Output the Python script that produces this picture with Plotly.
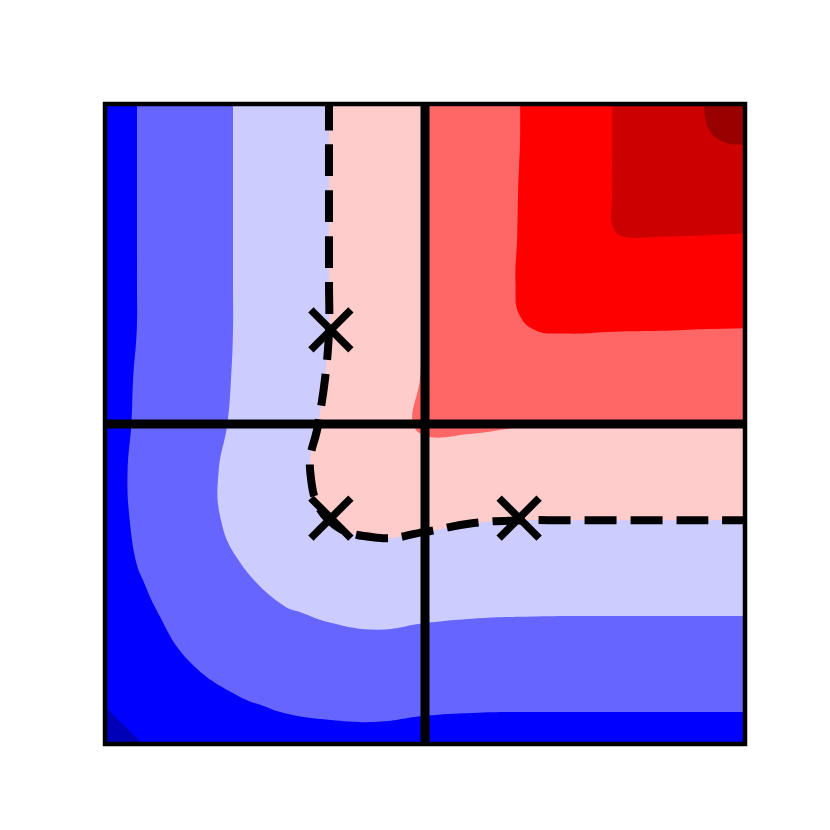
import plotly.graph_objs as go

# grid positions (same for x and y)
grid_x = [-1.75, -1.5, -1.25, -1.0, -0.75, -0.5, -0.25, 0.0,
          0.25, 0.5, 0.75, 1.0, 1.25, 1.5, 1.75]
grid_y = [-1.75, -1.5, -1.25, -1.0, -0.75, -0.5, -0.25, 0.0,
          0.25, 0.5, 0.75, 1.0, 1.25, 1.5, 1.75]

# field values, one row per grid_y (bottom to top)
z_values = [
    [-1.72, -1.54, -1.38, -1.28, -1.21, -1.17, -1.165, -1.20, -1.215, -1.22, -1.22, -1.22, -1.22, -1.22, -1.22],
    [-1.54, -1.35, -1.20, -1.05, -0.965, -0.93, -0.92, -0.95, -0.965, -0.97, -0.97, -0.97, -0.97, -0.97, -0.97],
    [-1.39, -1.18, -0.99, -0.84, -0.75, -0.69, -0.66, -0.70, -0.715, -0.72, -0.73, -0.73, -0.73, -0.73, -0.73],
    [-1.29, -1.07, -0.85, -0.67, -0.53, -0.445, -0.405, -0.44, -0.466, -0.476, -0.48, -0.48, -0.48, -0.48, -0.48],
    [-1.22, -0.97, -0.745, -0.52, -0.31, -0.20, -0.14, -0.18, -0.22, -0.235, -0.24, -0.24, -0.24, -0.24, -0.24],
    [-1.18, -0.93, -0.67, -0.41, -0.21, 0.02, 0.10, 0.074, 0.027, 0.012, 0.012, 0.012, 0.012, 0.012, 0.012],
    [-1.17, -0.92, -0.66, -0.40, -0.14, 0.11, 0.29, 0.316, 0.29, 0.26, 0.25, 0.25, 0.25, 0.25, 0.25],
    [-1.19, -0.94, -0.70, -0.45, -0.19, 0.07, 0.32, 0.56, 0.555, 0.52, 0.51, 0.505, 0.505, 0.505, 0.505],
    [-1.20, -0.95, -0.72, -0.47, -0.22, 0.03, 0.28, 0.525, 0.77, 0.77, 0.76, 0.76, 0.76, 0.76, 0.76],
    [-1.21, -0.97, -0.73, -0.48, -0.24, 0.01, 0.26, 0.52, 0.76, 0.99, 1.02, 1.01, 1.005, 0.995, 0.99],
    [-1.22, -0.97, -0.73, -0.48, -0.24, 0.01, 0.26, 0.52, 0.76, 1.02, 1.24, 1.25, 1.25, 1.25, 1.24],
    [-1.22, -0.97, -0.73, -0.48, -0.24, 0.01, 0.26, 0.52, 0.76, 1.01, 1.25, 1.499, 1.505, 1.497, 1.485],
    [-1.22, -0.97, -0.73, -0.48, -0.24, 0.01, 0.26, 0.52, 0.76, 1.005, 1.25, 1.505, 1.74, 1.75, 1.75],
    [-1.22, -0.97, -0.73, -0.48, -0.24, 0.01, 0.26, 0.52, 0.76, 0.995, 1.25, 1.505, 1.75, 1.995, 2.01],
    [-1.22, -0.97, -0.73, -0.48, -0.24, 0.01, 0.26, 0.52, 0.76, 0.995, 1.25, 1.505, 1.75, 2.01, 2.22],
]

# the three marked points
marker_x = [-0.5, -0.5, 0.5]
marker_y = [0.5, -0.5, -0.5]

# contour levels
level_start = -2.5
level_end = 2.5
level_step = 0.5

# seismic colours, one per band
band_colors = ['#000070', '#0000b8', '#0000ff', '#6666ff', '#ccccff',
               '#ffcccc', '#ff6666', '#ff0000', '#cc0000', '#990000']

axis_range = [-1.7, 1.7]

# step colorscale so each band gets a flat colour
colorscale = []
n = len(band_colors)
for i, c in enumerate(band_colors):
    colorscale.append([i / n, c])
    colorscale.append([(i + 1) / n, c])

filled = go.Contour(
    x=grid_x, y=grid_y, z=z_values,
    autocontour=False,
    contours=dict(start=level_start, end=level_end, size=level_step, coloring='fill'),
    colorscale=colorscale, zmin=level_start, zmax=level_end, zauto=False,
    showscale=False,
    line=dict(width=0, smoothing=1.3),
    hoverinfo='skip'
)

# zero level as a dashed line
zero_line = go.Contour(
    x=grid_x, y=grid_y, z=z_values,
    autocontour=False,
    contours=dict(start=0, end=0.1, size=1, coloring='none'),
    showscale=False,
    line=dict(color='black', width=8, dash='32px,14px', smoothing=1.3),
    hoverinfo='skip'
)

points = go.Scatter(
    x=marker_x, y=marker_y, mode='markers',
    marker=dict(symbol='x-thin', size=40, color='black',
                line=dict(width=7.5, color='black')),
    hoverinfo='skip'
)

axis = dict(range=axis_range, showgrid=False, zeroline=False,
            showticklabels=False, ticks='', showline=False)

# the page body adds 8px, so margins are trimmed to land the box at 105..745
layout = dict(
    width=830, height=830,
    margin=dict(l=97, r=93, t=96, b=94),
    paper_bgcolor='white', plot_bgcolor='white',
    showlegend=False,
    xaxis=axis, yaxis=dict(axis),
    shapes=[
        # centre cross
        dict(type='line', xref='x', yref='y', x0=0, x1=0,
             y0=axis_range[0], y1=axis_range[1],
             line=dict(color='black', width=9), layer='above'),
        dict(type='line', xref='x', yref='y', y0=0, y1=0,
             x0=axis_range[0], x1=axis_range[1],
             line=dict(color='black', width=9), layer='above'),
        # frame
        dict(type='rect', xref='paper', yref='paper', x0=0, x1=1, y0=0, y1=1,
             line=dict(color='black', width=4.5), layer='above'),
    ],
)

fig = go.Figure(data=[filled, zero_line, points], layout=layout)
fig.write_html("out.html")
